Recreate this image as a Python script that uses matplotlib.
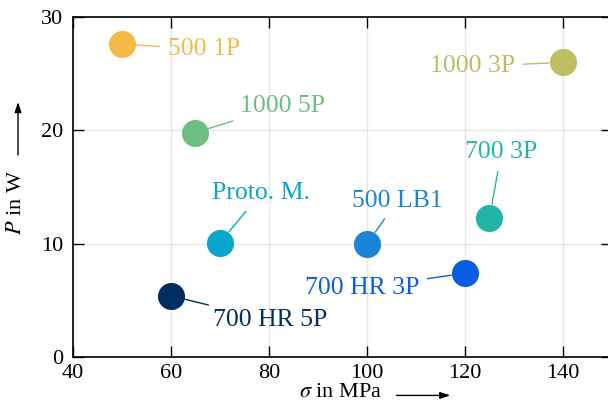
import matplotlib
matplotlib.use('Agg')
import matplotlib.pyplot as plt

# Data
labels = ['500 1P', '1000 3P', '1000 5P', '700 3P', 'Proto. M.',
          '500 LB1', '700 HR 3P', '700 HR 5P']
sigma = [50, 140, 65, 125, 70, 100, 120, 60]
power = [27.6, 26.0, 19.8, 12.3, 10.1, 10.0, 7.4, 5.4]
colors = ['#F5BA45', '#BDBD62', '#6DBF7D', '#22B5A6', '#0AA5CD',
          '#1A85D6', '#0A5CE0', '#002F5F']

# Label placement (offset in points, alignment)
offsets = [(33, -3.5), (-34.5, -3), (32, 19.5), (8.5, 47), (29.5, 35.5),
           (22, 31), (-33, -11), (30, -17.5)]
aligns = ['left', 'right', 'left', 'center', 'center', 'center', 'right', 'left']

plt.rcParams['font.family'] = ['Liberation Serif', 'DejaVu Serif']
plt.rcParams['mathtext.fontset'] = 'stix'

fig = plt.figure(figsize=(6.08, 4.08), dpi=100)
ax = fig.add_axes([73 / 608, 1 - 357 / 408, 539 / 608, 340 / 408])

ax.grid(True, color='#e6e6e6', lw=1, zorder=0)
ax.set_axisbelow(True)

for lab, x, y, c, off, ha in zip(labels, sigma, power, colors, offsets, aligns):
    ax.plot(x, y, 'o', ms=19.5, color=c, mec='none', zorder=3)
    ax.annotate(lab, xy=(x, y), xytext=off, textcoords='offset points',
                ha=ha, va='center', fontsize=18.5, color=c,
                arrowprops=dict(arrowstyle='-', color=c, lw=1,
                                shrinkA=4, shrinkB=10))

ax.set_xlim(40, 150)
ax.set_ylim(0, 30)
ax.set_xticks([40, 60, 80, 100, 120, 140])
ax.set_yticks([0, 10, 20, 30])
ax.tick_params(direction='in', top=True, right=True, length=8, width=1,
               labelsize=16)
ax.tick_params(axis='x', pad=5)
ax.tick_params(axis='y', pad=7)
for s in ax.spines.values():
    s.set_linewidth(1.2)

ax.set_xlabel(r'$\sigma$ in MPa', fontsize=16)
ax.xaxis.label.set_va('center')
ax.xaxis.set_label_coords(0.497, -0.105)
ax.set_ylabel(r'$P$ in W', fontsize=16)
ax.yaxis.label.set_va('center')
ax.yaxis.set_label_coords(-0.104, 0.453)

# arrows next to axis labels
ax.annotate('', xy=(0.70, -0.113), xytext=(0.60, -0.113), xycoords='axes fraction',
            arrowprops=dict(arrowstyle='-|>,head_length=0.6,head_width=0.2',
                            color='black', lw=1, shrinkA=0, shrinkB=0),
            annotation_clip=False)
ax.annotate('', xy=(-0.102, 0.75), xytext=(-0.102, 0.594), xycoords='axes fraction',
            arrowprops=dict(arrowstyle='-|>,head_length=0.6,head_width=0.2',
                            color='black', lw=1, shrinkA=0, shrinkB=0),
            annotation_clip=False)

fig.savefig('out.png', dpi=100)
